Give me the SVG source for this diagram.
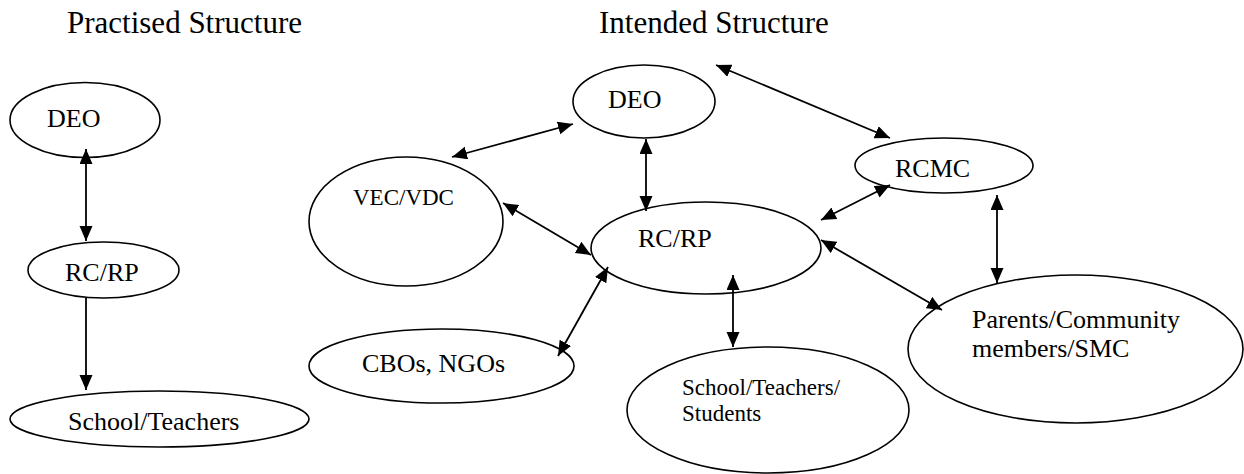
<svg xmlns="http://www.w3.org/2000/svg" width="1244" height="474" viewBox="0 0 1244 474">
<defs>
<marker id="arrowhead" markerUnits="userSpaceOnUse" markerWidth="16" markerHeight="14" refX="15" refY="6.5" orient="auto-start-reverse" viewBox="0 0 16 14">
<path d="M0,0 L15,6.5 L0,13 z" fill="#000"/>
</marker>
</defs>
<rect width="1244" height="474" fill="#fff"/>
<text x="67" y="33" font-family="Liberation Serif" font-size="31">Practised Structure</text>
<text x="599" y="33" font-family="Liberation Serif" font-size="31">Intended Structure</text>

<g id="pdeo"><ellipse cx="85" cy="120" rx="75" ry="37.5" fill="#fff" stroke="#000" stroke-width="1.6"/><text x="47" y="127" font-family="Liberation Serif" font-size="26">DEO</text></g>
<g id="prcrp"><ellipse cx="103.5" cy="270" rx="75.5" ry="28" fill="#fff" stroke="#000" stroke-width="1.6"/><text x="65" y="281" font-family="Liberation Serif" font-size="26">RC/RP</text></g>
<g id="pschool"><ellipse cx="159.5" cy="419" rx="149.5" ry="28" fill="#fff" stroke="#000" stroke-width="1.6"/><text x="68" y="430" font-family="Liberation Serif" font-size="26">School/Teachers</text></g>

<g id="ideo"><ellipse cx="644" cy="101.5" rx="71" ry="36.5" fill="#fff" stroke="#000" stroke-width="1.6"/><text x="608" y="108" font-family="Liberation Serif" font-size="26">DEO</text></g>
<g id="ivec"><ellipse cx="406" cy="221.5" rx="97" ry="64.5" fill="#fff" stroke="#000" stroke-width="1.6"/><text x="353" y="205" font-family="Liberation Serif" font-size="23">VEC/VDC</text></g>
<g id="ircrp"><ellipse cx="706" cy="248" rx="115" ry="46" fill="#fff" stroke="#000" stroke-width="1.6"/><text x="638" y="247" font-family="Liberation Serif" font-size="26">RC/RP</text></g>
<g id="ircmc"><ellipse cx="944" cy="165.5" rx="89" ry="27.5" fill="#fff" stroke="#000" stroke-width="1.6"/><text x="895" y="177" font-family="Liberation Serif" font-size="26">RCMC</text></g>
<g id="icbo"><ellipse cx="441.5" cy="366" rx="132.5" ry="37" fill="#fff" stroke="#000" stroke-width="1.6"/><text x="362" y="372" font-family="Liberation Serif" font-size="26">CBOs, NGOs</text></g>
<g id="ischool"><ellipse cx="768" cy="410" rx="141" ry="63" fill="#fff" stroke="#000" stroke-width="1.6"/><text x="682" y="395" font-family="Liberation Serif" font-size="23">School/Teachers/</text><text x="682" y="421" font-family="Liberation Serif" font-size="23">Students</text></g>
<g id="iparents"><ellipse cx="1075.5" cy="349" rx="167.5" ry="74" fill="#fff" stroke="#000" stroke-width="1.6"/><text x="972" y="328" font-family="Liberation Serif" font-size="26">Parents/Community</text><text x="972" y="357" font-family="Liberation Serif" font-size="26">members/SMC</text></g>

<g id="edges" stroke="#000" stroke-width="1.8" marker-start="url(#arrowhead)" marker-end="url(#arrowhead)">
<line x1="86" y1="149" x2="86" y2="241"/>
<line x1="86" y1="298" x2="86" y2="390" marker-start="none"/>
<line x1="573" y1="124" x2="452" y2="157"/>
<line x1="646" y1="139" x2="646" y2="211"/>
<line x1="716" y1="65" x2="890" y2="138"/>
<line x1="503" y1="203" x2="591" y2="255"/>
<line x1="558" y1="356" x2="608" y2="267"/>
<line x1="733" y1="275" x2="733" y2="347"/>
<line x1="821" y1="220" x2="890" y2="185"/>
<line x1="821" y1="240" x2="942" y2="310"/>
<line x1="997" y1="195" x2="997" y2="283"/>
</g>
</svg>
